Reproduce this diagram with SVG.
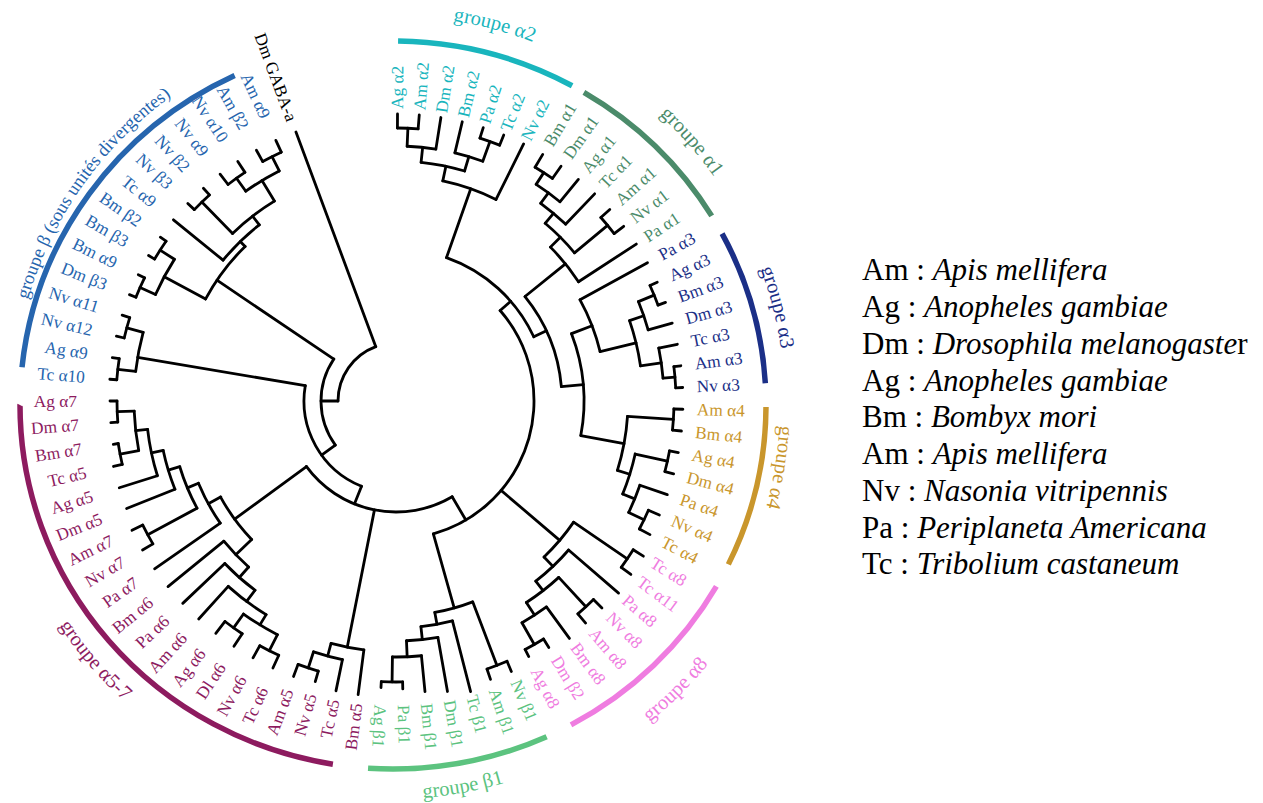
<svg xmlns="http://www.w3.org/2000/svg" width="1263" height="803" viewBox="0 0 1263 803">
<style>
.t{fill:none;stroke:#000;stroke-width:2.8;stroke-linecap:round;stroke-linejoin:round}
.ga{fill:none;stroke-width:5.5}
text{font-family:"Liberation Serif","Times New Roman",serif}
.l text{font-size:17.3px;dominant-baseline:central}
.e{text-anchor:end}
.gl{font-size:20.5px;text-anchor:middle}
.lg{font-size:31px;fill:#000}
.c2{fill:#19b5bd}.c1{fill:#4b8b6a}.c3{fill:#1b2f87}.c4{fill:#c9962c}.c8{fill:#ef7ce0}.cb1{fill:#5cc37f}.c57{fill:#8d1b5f}.cb{fill:#2665ae}.k{fill:#000}
</style>
<defs>
<path id="cw389" d="M-389 0A389 389 0 1 1 389 0A389 389 0 1 1 -389 0"/>
<path id="cw394" d="M-394 0A394 394 0 1 1 394 0A394 394 0 1 1 -394 0"/>
<path id="cw392" d="M-392 0A392 392 0 1 1 392 0A392 392 0 1 1 -392 0"/>
<path id="cw387" d="M-387 0A387 387 0 1 1 387 0A387 387 0 1 1 -387 0"/>
<path id="cw380" d="M-380 0A380 380 0 1 1 380 0A380 380 0 1 1 -380 0"/>
<path id="ccw394" d="M-394 0A394 394 0 1 0 394 0A394 394 0 1 0 -394 0"/>
<path id="ccw400" d="M-400 0A400 400 0 1 0 400 0A400 400 0 1 0 -400 0"/>
<path id="ccw408" d="M-408 0A408 408 0 1 0 408 0A408 408 0 1 0 -408 0"/>
</defs>

<g id="groups" transform="translate(393,405)">
<g id="grp-a2"><ellipse class="ga" stroke="#19b5bd" rx="373" ry="364" pathLength="360" stroke-dasharray="28.2 999" stroke-dashoffset="-270.8"/><text class="gl c2"><textPath href="#cw389" startOffset="29.17%">groupe α2</textPath></text></g>
<g id="grp-a1"><ellipse class="ga" stroke="#4b8b6a" rx="373" ry="364" pathLength="360" stroke-dasharray="27.9 999" stroke-dashoffset="-301.1"/><text class="gl c1"><textPath href="#cw394" startOffset="38.5%">groupe α1</textPath></text></g>
<g id="grp-a3"><ellipse class="ga" stroke="#1b2f87" rx="373" ry="364" pathLength="360" stroke-dasharray="24.4 999" stroke-dashoffset="-332.2"/><text class="gl c3"><textPath href="#cw392" startOffset="46.03%">groupe α3</textPath></text></g>
<g id="grp-a4"><ellipse class="ga" stroke="#c9962c" rx="373" ry="364" pathLength="360" stroke-dasharray="25.4 999" stroke-dashoffset="-0.3"/><text class="gl c4"><textPath href="#cw387" startOffset="52.56%">groupe α4</textPath></text></g>
<g id="grp-a8"><ellipse class="ga" stroke="#ef7ce0" rx="373" ry="364" pathLength="360" stroke-dasharray="31.6 999" stroke-dashoffset="-29.6"/><text class="gl c8"><textPath href="#ccw408" startOffset="37.44%">groupe α8</textPath></text></g>
<g id="grp-b1"><ellipse class="ga" stroke="#5cc37f" rx="373" ry="364" pathLength="360" stroke-dasharray="28.5 999" stroke-dashoffset="-65.4"/><text class="gl cb1"><textPath href="#ccw394" startOffset="27.89%">groupe β1</textPath></text></g>
<g id="grp-a57"><ellipse class="ga" stroke="#8d1b5f" rx="373" ry="364" pathLength="360" stroke-dasharray="80.6 999" stroke-dashoffset="-99.4"/><text class="gl c57"><textPath href="#ccw400" startOffset="11.28%">groupe α5-7</textPath></text></g>
<g id="grp-b"><ellipse class="ga" stroke="#2665ae" rx="373" ry="364" pathLength="360" stroke-dasharray="58.7 999" stroke-dashoffset="-185.9"/><text class="gl cb" style="font-size:18.5px"><textPath href="#cw380" startOffset="9.78%">groupe β (sous unités divergentes)</textPath></text></g>
</g>

<g id="connectors" class="t" transform="translate(396,401)">
<!-- backbone -->
<circle r="58" pathLength="360" stroke-dasharray="69.6 999" transform="rotate(180)"/>
<path d="M58 0H287" transform="rotate(249.6)"/>
<path d="M58 0H75" transform="rotate(180)"/>
<circle r="75" pathLength="360" stroke-dasharray="70 999" transform="rotate(144)"/>
<path d="M75 0H216" transform="rotate(214)"/>
<path d="M75 0H92" transform="rotate(144)"/>
<circle r="92" pathLength="360" stroke-dasharray="77.6 999" transform="rotate(112)"/>
<path d="M92 0H262" transform="rotate(189.6)"/>
<path d="M92 0H111" transform="rotate(112)"/>
<circle r="111" pathLength="360" stroke-dasharray="84.2 999" transform="rotate(59.6)"/>
<path d="M111 0H200" transform="rotate(143.8)"/>
<path d="M111 0H251" transform="rotate(101.2)"/>
<path d="M111 0H138" transform="rotate(59.6)"/>
<circle r="138" pathLength="360" stroke-dasharray="115.3 999" transform="rotate(-41)"/>
<path d="M138 0H215" transform="rotate(74.3)"/>
<path d="M138 0H215" transform="rotate(40.4)"/>
<path d="M138 0H152" transform="rotate(-41)"/>
<circle r="152" pathLength="360" stroke-dasharray="45.6 999" transform="rotate(-70.6)"/>
<path d="M152 0H225" transform="rotate(-70.6)"/>
<path d="M152 0H166" transform="rotate(-25)"/>
<circle r="166" pathLength="360" stroke-dasharray="34 999" transform="rotate(-39)"/>
<path d="M166 0H218" transform="rotate(-39)"/>
<path d="M166 0H188" transform="rotate(-5)"/>
<circle r="188" pathLength="360" stroke-dasharray="31.6 999" transform="rotate(-21)"/>
<path d="M188 0H210" transform="rotate(-21)"/>
<path d="M188 0H232" transform="rotate(10.6)"/>
<!-- alpha2 -->
<circle r="273" pathLength="360" stroke-dasharray="4.35 999" transform="rotate(-89.7)"/>
<circle r="255" pathLength="360" stroke-dasharray="6.5 999" transform="rotate(-87.5)"/>
<circle r="276" pathLength="360" stroke-dasharray="4.35 999" transform="rotate(-72.3)"/>
<circle r="255" pathLength="360" stroke-dasharray="6.55 999" transform="rotate(-76.65)"/>
<circle r="240" pathLength="360" stroke-dasharray="10.6 999" transform="rotate(-84)"/>
<circle r="225" pathLength="360" stroke-dasharray="14.4 999" transform="rotate(-78)"/>
<path d="M255 0H273" transform="rotate(-87.5)"/>
<path d="M240 0H255" transform="rotate(-84)"/>
<path d="M255 0H276" transform="rotate(-70.1)"/>
<path d="M240 0H255" transform="rotate(-73.4)"/>
<path d="M225 0H240" transform="rotate(-78)"/>
<path d="M273 0H287" transform="rotate(-89.7)"/>
<path d="M273 0H287" transform="rotate(-85.35)"/>
<path d="M255 0H287" transform="rotate(-81)"/>
<path d="M255 0H287" transform="rotate(-76.65)"/>
<path d="M276 0H287" transform="rotate(-72.3)"/>
<path d="M276 0H287" transform="rotate(-67.95)"/>
<path d="M225 0H287" transform="rotate(-63.6)"/>
<!-- alpha1 -->
<circle r="272" pathLength="360" stroke-dasharray="4.35 999" transform="rotate(-59.25)"/>
<circle r="258" pathLength="360" stroke-dasharray="6.55 999" transform="rotate(-57.1)"/>
<circle r="245" pathLength="360" stroke-dasharray="7.6 999" transform="rotate(-53.8)"/>
<circle r="275" pathLength="360" stroke-dasharray="4.35 999" transform="rotate(-41.85)"/>
<circle r="232" pathLength="360" stroke-dasharray="10.3 999" transform="rotate(-50)"/>
<circle r="218" pathLength="360" stroke-dasharray="11.75 999" transform="rotate(-44.9)"/>
<path d="M258 0H272" transform="rotate(-57.1)"/>
<path d="M245 0H258" transform="rotate(-53.8)"/>
<path d="M232 0H245" transform="rotate(-50)"/>
<path d="M232 0H275" transform="rotate(-39.7)"/>
<path d="M218 0H232" transform="rotate(-44.9)"/>
<path d="M272 0H287" transform="rotate(-59.25)"/>
<path d="M272 0H287" transform="rotate(-54.9)"/>
<path d="M258 0H287" transform="rotate(-50.55)"/>
<path d="M245 0H287" transform="rotate(-46.2)"/>
<path d="M275 0H287" transform="rotate(-41.85)"/>
<path d="M275 0H287" transform="rotate(-37.5)"/>
<path d="M218 0H287" transform="rotate(-33.15)"/>
<!-- alpha3 -->
<circle r="279" pathLength="360" stroke-dasharray="4.35 999" transform="rotate(-24.45)"/>
<circle r="262" pathLength="360" stroke-dasharray="6.55 999" transform="rotate(-22.3)"/>
<circle r="280" pathLength="360" stroke-dasharray="4.35 999" transform="rotate(-7.05)"/>
<circle r="268" pathLength="360" stroke-dasharray="6.5 999" transform="rotate(-11.4)"/>
<circle r="247" pathLength="360" stroke-dasharray="10.8 999" transform="rotate(-19)"/>
<circle r="210" pathLength="360" stroke-dasharray="15.2 999" transform="rotate(-28.8)"/>
<path d="M262 0H279" transform="rotate(-22.3)"/>
<path d="M247 0H262" transform="rotate(-19)"/>
<path d="M268 0H280" transform="rotate(-4.9)"/>
<path d="M247 0H268" transform="rotate(-8.2)"/>
<path d="M210 0H247" transform="rotate(-13.6)"/>
<path d="M210 0H287" transform="rotate(-28.8)"/>
<path d="M279 0H287" transform="rotate(-24.45)"/>
<path d="M279 0H287" transform="rotate(-20.1)"/>
<path d="M262 0H287" transform="rotate(-15.75)"/>
<path d="M268 0H287" transform="rotate(-11.4)"/>
<path d="M280 0H287" transform="rotate(-7.05)"/>
<path d="M280 0H287" transform="rotate(-2.7)"/>
<!-- alpha4 -->
<circle r="278" pathLength="360" stroke-dasharray="4.35 999" transform="rotate(1.65)"/>
<circle r="278" pathLength="360" stroke-dasharray="4.35 999" transform="rotate(10.35)"/>
<circle r="275" pathLength="360" stroke-dasharray="4.35 999" transform="rotate(23.4)"/>
<circle r="258" pathLength="360" stroke-dasharray="6.55 999" transform="rotate(19.05)"/>
<circle r="245" pathLength="360" stroke-dasharray="9.8 999" transform="rotate(12.5)"/>
<circle r="232" pathLength="360" stroke-dasharray="13.6 999" transform="rotate(3.8)"/>
<path d="M232 0H278" transform="rotate(3.8)"/>
<path d="M245 0H278" transform="rotate(12.5)"/>
<path d="M258 0H275" transform="rotate(25.6)"/>
<path d="M245 0H258" transform="rotate(22.3)"/>
<path d="M232 0H245" transform="rotate(17.4)"/>
<path d="M278 0H287" transform="rotate(1.65)"/>
<path d="M278 0H287" transform="rotate(6)"/>
<path d="M278 0H287" transform="rotate(10.35)"/>
<path d="M278 0H287" transform="rotate(14.7)"/>
<path d="M258 0H287" transform="rotate(19.05)"/>
<path d="M275 0H287" transform="rotate(23.4)"/>
<path d="M275 0H287" transform="rotate(27.75)"/>
<!-- alpha8 -->
<circle r="280" pathLength="360" stroke-dasharray="4.35 999" transform="rotate(32.1)"/>
<circle r="280" pathLength="360" stroke-dasharray="4.35 999" transform="rotate(45.15)"/>
<circle r="280" pathLength="360" stroke-dasharray="4.35 999" transform="rotate(58.2)"/>
<circle r="255" pathLength="360" stroke-dasharray="6.55 999" transform="rotate(53.85)"/>
<circle r="240" pathLength="360" stroke-dasharray="9.8 999" transform="rotate(47.3)"/>
<circle r="228" pathLength="360" stroke-dasharray="11.4 999" transform="rotate(40.8)"/>
<circle r="215" pathLength="360" stroke-dasharray="12.2 999" transform="rotate(34.3)"/>
<path d="M215 0H280" transform="rotate(34.3)"/>
<path d="M240 0H280" transform="rotate(47.3)"/>
<path d="M255 0H280" transform="rotate(60.4)"/>
<path d="M240 0H255" transform="rotate(57.1)"/>
<path d="M228 0H240" transform="rotate(52.2)"/>
<path d="M215 0H228" transform="rotate(46.5)"/>
<path d="M280 0H292" transform="rotate(32.1)"/>
<path d="M280 0H292" transform="rotate(36.45)"/>
<path d="M228 0H294" transform="rotate(40.8)"/>
<path d="M280 0H292" transform="rotate(45.15)"/>
<path d="M280 0H292" transform="rotate(49.5)"/>
<path d="M255 0H294" transform="rotate(53.85)"/>
<path d="M280 0H290" transform="rotate(58.2)"/>
<path d="M280 0H288" transform="rotate(62.55)"/>
<!-- beta1 -->
<circle r="281" pathLength="360" stroke-dasharray="4.35 999" transform="rotate(88.65)"/>
<circle r="256" pathLength="360" stroke-dasharray="6.5 999" transform="rotate(84.3)"/>
<circle r="240" pathLength="360" stroke-dasharray="7.55 999" transform="rotate(79.95)"/>
<circle r="227" pathLength="360" stroke-dasharray="8.1 999" transform="rotate(75.6)"/>
<circle r="283" pathLength="360" stroke-dasharray="4.35 999" transform="rotate(66.9)"/>
<circle r="215" pathLength="360" stroke-dasharray="10.5 999" transform="rotate(69.1)"/>
<path d="M256 0H281" transform="rotate(90.8)"/>
<path d="M240 0H256" transform="rotate(87.5)"/>
<path d="M227 0H240" transform="rotate(83.7)"/>
<path d="M215 0H227" transform="rotate(79.6)"/>
<path d="M215 0H283" transform="rotate(69.1)"/>
<path d="M283 0H294" transform="rotate(66.9)"/>
<path d="M283 0H294" transform="rotate(71.25)"/>
<path d="M227 0H300" transform="rotate(75.6)"/>
<path d="M240 0H295" transform="rotate(79.95)"/>
<path d="M256 0H292" transform="rotate(84.3)"/>
<path d="M281 0H288" transform="rotate(88.65)"/>
<path d="M281 0H287" transform="rotate(93)"/>
<!-- alpha5 -->
<circle r="281" pathLength="360" stroke-dasharray="4.35 999" transform="rotate(106.05)"/>
<circle r="264" pathLength="360" stroke-dasharray="6.5 999" transform="rotate(101.7)"/>
<circle r="251" pathLength="360" stroke-dasharray="7.65 999" transform="rotate(97.35)"/>
<path d="M264 0H281" transform="rotate(108.2)"/>
<path d="M251 0H264" transform="rotate(105)"/>
<path d="M251 0H296" transform="rotate(97.35)"/>
<path d="M264 0H296" transform="rotate(101.7)"/>
<path d="M281 0H292" transform="rotate(106.05)"/>
<path d="M281 0H294" transform="rotate(110.4)"/>
<!-- alpha6/7 -->
<circle r="280" pathLength="360" stroke-dasharray="4.35 999" transform="rotate(114.75)"/>
<circle r="279" pathLength="360" stroke-dasharray="4.35 999" transform="rotate(123.45)"/>
<circle r="262" pathLength="360" stroke-dasharray="8.7 999" transform="rotate(116.9)"/>
<circle r="250" pathLength="360" stroke-dasharray="10.85 999" transform="rotate(121.3)"/>
<circle r="236" pathLength="360" stroke-dasharray="9.8 999" transform="rotate(126.7)"/>
<circle r="222" pathLength="360" stroke-dasharray="9.25 999" transform="rotate(131.6)"/>
<circle r="279" pathLength="360" stroke-dasharray="4.35 999" transform="rotate(175.65)"/>
<circle r="281" pathLength="360" stroke-dasharray="4.35 999" transform="rotate(166.95)"/>
<circle r="262" pathLength="360" stroke-dasharray="8.7 999" transform="rotate(169.1)"/>
<circle r="250" pathLength="360" stroke-dasharray="10.9 999" transform="rotate(162.6)"/>
<circle r="238" pathLength="360" stroke-dasharray="9.75 999" transform="rotate(158.25)"/>
<circle r="282" pathLength="360" stroke-dasharray="4.35 999" transform="rotate(149.55)"/>
<circle r="226" pathLength="360" stroke-dasharray="11.4 999" transform="rotate(151.7)"/>
<circle r="214" pathLength="360" stroke-dasharray="12.2 999" transform="rotate(145.2)"/>
<circle r="200" pathLength="360" stroke-dasharray="15.1 999" transform="rotate(136.2)"/>
<path d="M262 0H280" transform="rotate(116.9)"/>
<path d="M262 0H279" transform="rotate(125.6)"/>
<path d="M250 0H262" transform="rotate(121.3)"/>
<path d="M236 0H250" transform="rotate(126.7)"/>
<path d="M222 0H236" transform="rotate(131.6)"/>
<path d="M200 0H222" transform="rotate(136.2)"/>
<path d="M262 0H279" transform="rotate(177.8)"/>
<path d="M262 0H281" transform="rotate(169.1)"/>
<path d="M250 0H262" transform="rotate(173.5)"/>
<path d="M238 0H250" transform="rotate(168)"/>
<path d="M226 0H238" transform="rotate(163.1)"/>
<path d="M226 0H282" transform="rotate(151.7)"/>
<path d="M214 0H226" transform="rotate(157.4)"/>
<path d="M200 0H214" transform="rotate(151.3)"/>
<path d="M280 0H294" transform="rotate(114.75)"/>
<path d="M280 0H294" transform="rotate(119.1)"/>
<path d="M279 0H294" transform="rotate(123.45)"/>
<path d="M279 0H294" transform="rotate(127.8)"/>
<path d="M250 0H294" transform="rotate(132.15)"/>
<path d="M236 0H294" transform="rotate(136.5)"/>
<path d="M222 0H294" transform="rotate(140.85)"/>
<path d="M214 0H294" transform="rotate(145.2)"/>
<path d="M282 0H294" transform="rotate(149.55)"/>
<path d="M282 0H294" transform="rotate(153.9)"/>
<path d="M238 0H290" transform="rotate(158.25)"/>
<path d="M250 0H290" transform="rotate(162.6)"/>
<path d="M281 0H290" transform="rotate(166.95)"/>
<path d="M281 0H286" transform="rotate(171.3)"/>
<path d="M279 0H286" transform="rotate(175.65)"/>
<path d="M279 0H286" transform="rotate(180)"/>
<!-- beta small -->
<circle r="280" pathLength="360" stroke-dasharray="4.35 999" transform="rotate(184.35)"/>
<circle r="279" pathLength="360" stroke-dasharray="4.35 999" transform="rotate(193.05)"/>
<circle r="262" pathLength="360" stroke-dasharray="8.7 999" transform="rotate(186.5)"/>
<path d="M262 0H280" transform="rotate(186.5)"/>
<path d="M262 0H279" transform="rotate(195.2)"/>
<path d="M280 0H287" transform="rotate(184.35)"/>
<path d="M280 0H287" transform="rotate(188.7)"/>
<path d="M279 0H287" transform="rotate(193.05)"/>
<path d="M279 0H287" transform="rotate(197.4)"/>
<!-- beta main -->
<circle r="280" pathLength="360" stroke-dasharray="4.35 999" transform="rotate(201.75)"/>
<circle r="280" pathLength="360" stroke-dasharray="4.35 999" transform="rotate(210.45)"/>
<circle r="263" pathLength="360" stroke-dasharray="8.7 999" transform="rotate(203.9)"/>
<circle r="278" pathLength="360" stroke-dasharray="4.35 999" transform="rotate(223.5)"/>
<circle r="274" pathLength="360" stroke-dasharray="4.35 999" transform="rotate(232.2)"/>
<circle r="274" pathLength="360" stroke-dasharray="4.35 999" transform="rotate(240.9)"/>
<circle r="258" pathLength="360" stroke-dasharray="8.7 999" transform="rotate(234.4)"/>
<circle r="234" pathLength="360" stroke-dasharray="13 999" transform="rotate(225.7)"/>
<circle r="223" pathLength="360" stroke-dasharray="13.05 999" transform="rotate(219.15)"/>
<circle r="216" pathLength="360" stroke-dasharray="17.5 999" transform="rotate(208.2)"/>
<path d="M263 0H280" transform="rotate(203.9)"/>
<path d="M263 0H280" transform="rotate(212.6)"/>
<path d="M216 0H263" transform="rotate(208.2)"/>
<path d="M234 0H278" transform="rotate(225.7)"/>
<path d="M258 0H274" transform="rotate(234.4)"/>
<path d="M258 0H274" transform="rotate(243.1)"/>
<path d="M234 0H258" transform="rotate(238.7)"/>
<path d="M223 0H234" transform="rotate(232.2)"/>
<path d="M216 0H223" transform="rotate(225.7)"/>
<path d="M280 0H287" transform="rotate(201.75)"/>
<path d="M280 0H287" transform="rotate(206.1)"/>
<path d="M280 0H287" transform="rotate(210.45)"/>
<path d="M280 0H287" transform="rotate(214.8)"/>
<path d="M223 0H287" transform="rotate(219.15)"/>
<path d="M278 0H287" transform="rotate(223.5)"/>
<path d="M278 0H287" transform="rotate(227.85)"/>
<path d="M274 0H287" transform="rotate(232.2)"/>
<path d="M274 0H287" transform="rotate(236.55)"/>
<path d="M274 0H287" transform="rotate(240.9)"/>
<path d="M274 0H287" transform="rotate(245.25)"/>
</g>

<g id="leaves" class="l" transform="translate(396,401)">
<g id="leaves-a2" class="c2">
<text id="Ag-a2" transform="rotate(-89.7) translate(292)">Ag α2</text>
<text id="Am-a2" transform="rotate(-85.35) translate(292)">Am α2</text>
<text id="Dm-a2" transform="rotate(-81) translate(292)">Dm α2</text>
<text id="Bm-a2" transform="rotate(-76.65) translate(292)">Bm α2</text>
<text id="Pa-a2" transform="rotate(-72.3) translate(292)">Pa α2</text>
<text id="Tc-a2" transform="rotate(-67.95) translate(292)">Tc α2</text>
<text id="Nv-a2" transform="rotate(-63.6) translate(292)">Nv α2</text>
</g>
<g id="leaves-a1" class="c1">
<text id="Bm-a1" transform="rotate(-59.25) translate(298)">Bm α1</text>
<text id="Dm-a1" transform="rotate(-54.9) translate(298)">Dm α1</text>
<text id="Ag-a1" transform="rotate(-50.55) translate(298)">Ag α1</text>
<text id="Tc-a1" transform="rotate(-46.2) translate(298)">Tc α1</text>
<text id="Am-a1" transform="rotate(-41.85) translate(298)">Am α1</text>
<text id="Nv-a1" transform="rotate(-37.5) translate(298)">Nv α1</text>
<text id="Pa-a1" transform="rotate(-33.15) translate(298)">Pa α1</text>
</g>
<g id="leaves-a3" class="c3">
<text id="Pa-a3" transform="rotate(-28.8) translate(301)">Pa α3</text>
<text id="Ag-a3" transform="rotate(-24.45) translate(301)">Ag α3</text>
<text id="Bm-a3" transform="rotate(-20.1) translate(301)">Bm α3</text>
<text id="Dm-a3" transform="rotate(-15.75) translate(301)">Dm α3</text>
<text id="Tc-a3" transform="rotate(-11.4) translate(301)">Tc α3</text>
<text id="Am-a3" transform="rotate(-7.05) translate(301)">Am α3</text>
<text id="Nv-a3" transform="rotate(-2.7) translate(301)">Nv α3</text>
</g>
<g id="leaves-a4" class="c4">
<text id="Am-a4" transform="rotate(1.65) translate(301)">Am α4</text>
<text id="Bm-a4" transform="rotate(6) translate(301)">Bm α4</text>
<text id="Ag-a4" transform="rotate(10.35) translate(301)">Ag α4</text>
<text id="Dm-a4" transform="rotate(14.7) translate(301)">Dm α4</text>
<text id="Pa-a4" transform="rotate(19.05) translate(301)">Pa α4</text>
<text id="Nv-a4" transform="rotate(23.4) translate(301)">Nv α4</text>
<text id="Tc-a4" transform="rotate(27.75) translate(301)">Tc α4</text>
</g>
<g id="leaves-a8" class="c8">
<text id="Tc-a8" transform="rotate(32.1) translate(302)">Tc α8</text>
<text id="Tc-a11" transform="rotate(36.45) translate(302)">Tc α11</text>
<text id="Pa-a8" transform="rotate(40.8) translate(302)">Pa α8</text>
<text id="Nv-a8" transform="rotate(45.15) translate(302)">Nv α8</text>
<text id="Am-a8" transform="rotate(49.5) translate(302)">Am α8</text>
<text id="Bm-a8" transform="rotate(53.85) translate(302)">Bm α8</text>
<text id="Dm-b2" transform="rotate(58.2) translate(302)">Dm β2</text>
<text id="Ag-a8" transform="rotate(62.55) translate(302)">Ag α8</text>
</g>
<g id="leaves-b1" class="cb1">
<text id="Nv-b1" transform="rotate(66.9) translate(304)">Nv β1</text>
<text id="Am-b1" transform="rotate(71.25) translate(304)">Am β1</text>
<text id="Tc-b1" transform="rotate(75.6) translate(304)">Tc β1</text>
<text id="Dm-b1" transform="rotate(79.95) translate(304)">Dm β1</text>
<text id="Bm-b1" transform="rotate(84.3) translate(304)">Bm β1</text>
<text id="Pa-b1" transform="rotate(88.65) translate(304)">Pa β1</text>
<text id="Ag-b1" transform="rotate(93) translate(304)">Ag β1</text>
</g>
<g id="leaves-a57" class="c57 e">
<text id="Bm-a5" transform="rotate(97.35) translate(305) rotate(180)">Bm α5</text>
<text id="Tc-a5" transform="rotate(101.7) translate(305) rotate(180)">Tc α5</text>
<text id="Nv-a5" transform="rotate(106.05) translate(305) rotate(180)">Nv α5</text>
<text id="Am-a5" transform="rotate(110.4) translate(308) rotate(180)">Am α5</text>
<text id="Tc-a6" transform="rotate(114.75) translate(316) rotate(180)">Tc α6</text>
<text id="Nv-a6" transform="rotate(119.1) translate(316) rotate(180)">Nv α6</text>
<text id="Dl-a6" transform="rotate(123.45) translate(316) rotate(180)">Dl α6</text>
<text id="Ag-a6" transform="rotate(127.8) translate(316) rotate(180)">Ag α6</text>
<text id="Am-a6" transform="rotate(132.15) translate(316) rotate(180)">Am α6</text>
<text id="Pa-a6" transform="rotate(136.5) translate(316) rotate(180)">Pa α6</text>
<text id="Bm-a6" transform="rotate(140.85) translate(316) rotate(180)">Bm α6</text>
<text id="Pa-a7" transform="rotate(145.2) translate(316) rotate(180)">Pa α7</text>
<text id="Nv-a7" transform="rotate(149.55) translate(316) rotate(180)">Nv α7</text>
<text id="Am-a7" transform="rotate(153.9) translate(316) rotate(180)">Am α7</text>
<text id="Dm-a5" transform="rotate(158.25) translate(317) rotate(180)">Dm α5</text>
<text id="Ag-a5" transform="rotate(162.6) translate(318) rotate(180)">Ag α5</text>
<text id="Tc-a5b" transform="rotate(166.95) translate(318) rotate(180)">Tc α5</text>
<text id="Bm-a7" transform="rotate(171.3) translate(318) rotate(180)">Bm α7</text>
<text id="Dm-a7" transform="rotate(175.65) translate(318) rotate(180)">Dm α7</text>
<text id="Ag-a7" transform="rotate(180) translate(319) rotate(180)">Ag α7</text>
</g>
<g id="leaves-b" class="cb e">
<text id="Tc-a10" transform="rotate(184.35) translate(312) rotate(180)">Tc α10</text>
<text id="Ag-a9" transform="rotate(188.7) translate(312) rotate(180)">Ag α9</text>
<text id="Nv-a12" transform="rotate(193.05) translate(312) rotate(180)">Nv α12</text>
<text id="Nv-a11" transform="rotate(197.4) translate(312) rotate(180)">Nv α11</text>
<text id="Dm-b3" transform="rotate(201.75) translate(312) rotate(180)">Dm β3</text>
<text id="Bm-a9" transform="rotate(206.1) translate(312) rotate(180)">Bm α9</text>
<text id="Bm-b3" transform="rotate(210.45) translate(312) rotate(180)">Bm β3</text>
<text id="Bm-b2" transform="rotate(214.8) translate(312) rotate(180)">Bm β2</text>
<text id="Tc-a9" transform="rotate(219.15) translate(312) rotate(180)">Tc α9</text>
<text id="Nv-b3" transform="rotate(223.5) translate(312) rotate(180)">Nv β3</text>
<text id="Nv-b2" transform="rotate(227.85) translate(312) rotate(180)">Nv β2</text>
<text id="Nv-a9" transform="rotate(232.2) translate(312) rotate(180)">Nv α9</text>
<text id="Nv-a10" transform="rotate(236.55) translate(312) rotate(180)">Nv α10</text>
<text id="Am-b2" transform="rotate(240.9) translate(312) rotate(180)">Am β2</text>
<text id="Am-a9" transform="rotate(245.25) translate(312) rotate(180)">Am α9</text>
</g>
<g id="leaf-gaba" class="k e">
<text id="Dm-GABA" transform="rotate(249.6) translate(299) rotate(180)">Dm GABA-a</text>
</g>
</g>

<g id="legend" class="lg">
<text x="862" y="280">Am : <tspan font-style="italic">Apis mellifera</tspan></text>
<text x="862" y="317">Ag : <tspan font-style="italic">Anopheles gambiae</tspan></text>
<text x="862" y="354">Dm : <tspan font-style="italic">Drosophila melanogaste</tspan>r</text>
<text x="862" y="391">Ag : <tspan font-style="italic">Anopheles gambiae</tspan></text>
<text x="862" y="427">Bm : <tspan font-style="italic">Bombyx mori</tspan></text>
<text x="862" y="464">Am : <tspan font-style="italic">Apis mellifera</tspan></text>
<text x="862" y="501">Nv : <tspan font-style="italic">Nasonia vitripennis</tspan></text>
<text x="862" y="538">Pa : <tspan font-style="italic">Periplaneta Americana</tspan></text>
<text x="862" y="574">Tc : <tspan font-style="italic">Tribolium castaneum</tspan></text>
</g>
</svg>
